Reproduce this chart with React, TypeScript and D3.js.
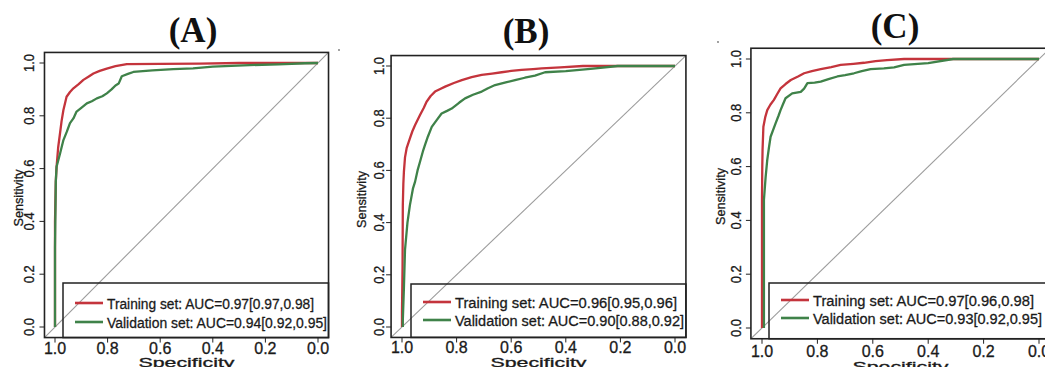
import * as d3 from "d3";

// [specificity, sensitivity]
const trainA = [
  [1.0, 0.0], [1.0, 0.4], [0.997, 0.55], [0.994, 0.607], [0.988, 0.68], [0.981, 0.733],
  [0.975, 0.78], [0.968, 0.822], [0.956, 0.872], [0.943, 0.89], [0.93, 0.904], [0.91, 0.92],
  [0.892, 0.936], [0.87, 0.95], [0.854, 0.96], [0.83, 0.97], [0.803, 0.979], [0.77, 0.988],
  [0.727, 0.996], [0.6, 0.997], [0.45, 0.998], [0.3, 1.0], [0.0, 1.0],
];
const validA = [
  [1.0, 0.0], [1.0, 0.3], [0.997, 0.55], [0.994, 0.607], [0.98, 0.66], [0.968, 0.708],
  [0.955, 0.74], [0.943, 0.772], [0.93, 0.79], [0.918, 0.816], [0.9, 0.83], [0.879, 0.847],
  [0.86, 0.855], [0.841, 0.866], [0.82, 0.874], [0.803, 0.885], [0.785, 0.9], [0.77, 0.915],
  [0.758, 0.922], [0.746, 0.95], [0.72, 0.96], [0.702, 0.966], [0.63, 0.972], [0.55, 0.977],
  [0.475, 0.98], [0.4, 0.986], [0.26, 0.992], [0.15, 0.995], [0.05, 0.999], [0.0, 1.0],
];
const trainB = [
  [1.0, 0.0], [1.0, 0.06], [0.998, 0.23], [0.997, 0.467], [0.995, 0.551], [0.993, 0.595],
  [0.989, 0.65], [0.983, 0.685], [0.971, 0.723], [0.962, 0.75], [0.952, 0.774], [0.934, 0.812],
  [0.92, 0.84], [0.91, 0.863], [0.895, 0.885], [0.879, 0.902], [0.86, 0.912], [0.842, 0.921],
  [0.81, 0.935], [0.781, 0.946], [0.745, 0.957], [0.708, 0.966], [0.67, 0.971], [0.635, 0.976],
  [0.6, 0.981], [0.562, 0.985], [0.52, 0.988], [0.488, 0.991], [0.42, 0.995], [0.337, 1.0], [0.0, 1.0],
];
const validB = [
  [0.997, 0.0], [0.997, 0.027], [0.993, 0.15], [0.989, 0.295], [0.98, 0.4], [0.971, 0.467],
  [0.96, 0.53], [0.952, 0.557], [0.943, 0.6], [0.934, 0.633], [0.922, 0.678], [0.916, 0.697],
  [0.905, 0.73], [0.891, 0.767], [0.875, 0.79], [0.855, 0.818], [0.835, 0.828], [0.818, 0.837],
  [0.79, 0.86], [0.769, 0.876], [0.74, 0.89], [0.708, 0.902], [0.685, 0.915], [0.659, 0.927],
  [0.62, 0.937], [0.586, 0.946], [0.55, 0.955], [0.513, 0.963], [0.476, 0.976], [0.4, 0.98],
  [0.3, 0.99], [0.21, 1.0], [0.0, 1.0],
];
const trainC = [
  [1.0, 0.0], [1.0, 0.476], [0.999, 0.6], [0.998, 0.662], [0.995, 0.748], [0.988, 0.785],
  [0.981, 0.81], [0.97, 0.83], [0.957, 0.848], [0.945, 0.87], [0.933, 0.891], [0.915, 0.907],
  [0.896, 0.922], [0.87, 0.935], [0.848, 0.947], [0.82, 0.955], [0.788, 0.962], [0.75, 0.97],
  [0.716, 0.978], [0.67, 0.982], [0.632, 0.986], [0.59, 0.992], [0.549, 0.996], [0.487, 1.0], [0.0, 1.0],
];
const validC = [
  [0.993, 0.0], [0.993, 0.3], [0.993, 0.476], [0.987, 0.56], [0.981, 0.625], [0.975, 0.67],
  [0.969, 0.711], [0.951, 0.761], [0.94, 0.79], [0.933, 0.81], [0.925, 0.83], [0.915, 0.854],
  [0.891, 0.872], [0.86, 0.878], [0.848, 0.89], [0.836, 0.91], [0.81, 0.912], [0.788, 0.916],
  [0.76, 0.925], [0.728, 0.935], [0.7, 0.94], [0.668, 0.947], [0.64, 0.955], [0.608, 0.962],
  [0.56, 0.965], [0.523, 0.969], [0.487, 0.978], [0.4, 0.985], [0.31, 1.0], [0.0, 1.0],
];

const titles = ["(A)", "(B)", "(C)"];
const trainLabels = [
  "Training set: AUC=0.97[0.97,0.98]",
  "Training set: AUC=0.96[0.95,0.96]",
  "Training set: AUC=0.97[0.96,0.98]",
];
const validLabels = [
  "Validation set: AUC=0.94[0.92,0.95]",
  "Validation set: AUC=0.90[0.88,0.92]",
  "Validation set: AUC=0.93[0.92,0.95]",
];
const tickValues = [0, 0.2, 0.4, 0.6, 0.8, 1.0];

const RED = "#c4343c";
const GREEN = "#3f8249";
const INK = "#1a1a1a";

// layout per panel (pixel positions)
const panels = [
  { train: trainA, valid: validA, x0: 55, x1: 318, yb: 327, yt: 63, tx: 193, ty: 42,
    lx: 63, ly: 283, rows: [20, 39], tl: [207, 220], xlab: 354, spec: 366.5, sens: 22.6, ytick: 34.4 },
  { train: trainB, valid: validB, x0: 402, x1: 675, yb: 327, yt: 66, tx: 526, ty: 43,
    lx: 411, ly: 284, rows: [18, 36], tl: [222, 229], xlab: 353, spec: 366.5, sens: 366, ytick: 384.4 },
  { train: trainC, valid: validC, x0: 762, x1: 1039, yb: 328, yt: 59, tx: 895, ty: 38,
    lx: 769, ly: 283, rows: [17, 35], tl: [221, 229], xlab: 357, spec: 371, sens: 725, ytick: 741.4 },
];

const fmt = d3.format(".1f");

const Panel = ({ p, i }) => {
  const x = d3.scaleLinear().domain([1, 0]).range([p.x0, p.x1]);
  const y = d3.scaleLinear().domain([0, 1]).range([p.yb, p.yt]);
  const bx0 = x(1.04), bx1 = x(-0.04), by0 = y(1.04), by1 = y(-0.04);
  const line = d3.line().x((d) => x(d[0])).y((d) => y(d[1]));
  const clipId = `clip-${i}`;
  const midY = (p.yb + p.yt) / 2;
  const txt = { fontFamily: "Liberation Sans", fill: INK, stroke: INK, strokeWidth: 0.3 };
  return (
    <g>
      <defs>
        <clipPath id={clipId}>
          <rect x={bx0} y={by0} width={bx1 - bx0} height={by1 - by0} />
        </clipPath>
      </defs>
      <text x={p.tx} y={p.ty} textAnchor="middle" fontFamily="Liberation Serif" fontWeight="bold" fontSize={35} fill="#111">
        {titles[i]}
      </text>
      <g clipPath={`url(#${clipId})`}>
        <line x1={x(1.04)} y1={y(-0.04)} x2={x(-0.04)} y2={y(1.04)} stroke="#9c9c9c" strokeWidth={1.1} />
        <path d={line(p.train)} fill="none" stroke={RED} strokeWidth={2.3} strokeLinejoin="round" />
        <path d={line(p.valid)} fill="none" stroke={GREEN} strokeWidth={2.3} strokeLinejoin="round" />
      </g>
      {/* legend */}
      <rect x={p.lx} y={p.ly} width={bx1 - p.lx} height={by1 - p.ly} fill="none" stroke="#222" strokeWidth={1.5} />
      {[0, 1].map((k) => (
        <g key={k}>
          <line x1={p.lx + 12} x2={p.lx + 40} y1={p.ly + p.rows[k]} y2={p.ly + p.rows[k]}
            stroke={k === 0 ? RED : GREEN} strokeWidth={2.6} />
          <text x={p.lx + 44} y={p.ly + p.rows[k] + 5.5} {...txt} fontSize={15.5}
            textLength={p.tl[k]} lengthAdjust="spacingAndGlyphs">
            {k === 0 ? trainLabels[i] : validLabels[i]}
          </text>
        </g>
      ))}
      <rect x={bx0} y={by0} width={bx1 - bx0} height={by1 - by0} fill="none" stroke="#222" strokeWidth={1.6} />
      {/* x axis */}
      {tickValues.map((t) => (
        <g key={`x${t}`}>
          <line x1={x(t)} x2={x(t)} y1={by1} y2={by1 + 5} stroke="#222" strokeWidth={1} />
          <text x={x(t)} y={p.xlab} textAnchor="middle" {...txt} fontSize={16}>
            {fmt(t)}
          </text>
        </g>
      ))}
      <text x={(p.x0 + p.x1) / 2} y={p.spec} textAnchor="middle" {...txt} fontSize={12.5}
        textLength={96} lengthAdjust="spacingAndGlyphs">
        Specificity
      </text>
      {/* y axis */}
      {tickValues.map((t) => (
        <g key={`y${t}`}>
          <line x1={bx0 - 5} x2={bx0} y1={y(t)} y2={y(t)} stroke="#222" strokeWidth={1} />
          <text transform={`translate(${p.ytick},${y(t)}) rotate(-90)`} textAnchor="middle" {...txt}
            fontSize={15} textLength={18} lengthAdjust="spacingAndGlyphs">
            {fmt(t)}
          </text>
        </g>
      ))}
      <text transform={`translate(${p.sens},${midY + 3}) rotate(-90)`} textAnchor="middle" {...txt}
        fontSize={13} textLength={57} lengthAdjust="spacingAndGlyphs">
        Sensitivity
      </text>
    </g>
  );
};

export default function App() {
  return (
    <svg width={1045} height={367} style={{ position: "absolute", left: 0, top: 0, background: "#fff" }}>
      <rect width={1045} height={367} fill="#fff" />
      {panels.map((p, i) => (
        <Panel key={i} p={p} i={i} />
      ))}
      <circle cx={339} cy={50} r={0.9} fill="#777" />
      <circle cx={718} cy={42} r={0.9} fill="#777" />
    </svg>
  );
}
